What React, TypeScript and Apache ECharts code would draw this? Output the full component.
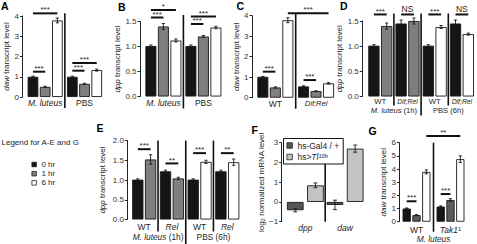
import React, { useEffect, useRef } from "react";
import * as echarts from "echarts";

const FONT = '"Liberation Sans", Arial, Helvetica, sans-serif';
const TEXT = "#1e1e1e";
const AXIS = "#222222";
const C_BLACK = "#151515";
const C_GRAY = "#7f7f7f";
const C_WHITE = "#ffffff";
const C_GRAY_G = "#5c5c5c";
const C_F_DARK = "#555555";
const C_F_LIGHT = "#c3c3c3";

// ---------- Panel A (daw, M. luteus vs PBS) ----------
const aCategories = ["M. luteus", "PBS"];
const a0hr = [1.0, 1.0];
const a0hrErr = [0.03, 0.03];
const a1hr = [0.5, 0.65];
const a1hrErr = [0.03, 0.03];
const a6hr = [3.78, 1.33];
const a6hrErr = [0.12, 0.05];
// [catFrom, slotFrom, catTo, slotTo, yValue, label]
const aSig: [number, number, number, number, number, string][] = [
  [0, 0, 0, 1, 1.25, "***"],
  [0, 0, 0, 2, 4.13, "***"],
  [1, 0, 1, 1, 1.3, "***"],
  [1, 0, 1, 2, 1.68, "***"],
];

// ---------- Panel B (dpp, M. luteus vs PBS) ----------
const bCategories = ["M. luteus", "PBS"];
const b0hr = [1.01, 1.01];
const b0hrErr = [0.02, 0.02];
const b1hr = [1.4, 1.2];
const b1hrErr = [0.06, 0.02];
const b6hr = [1.12, 1.38];
const b6hrErr = [0.03, 0.025];
const bSig: [number, number, number, number, number, string][] = [
  [0, 0, 0, 1, 1.58, "***"],
  [0, 0, 0, 2, 1.73, "*"],
  [1, 0, 1, 1, 1.45, "***"],
  [1, 0, 1, 2, 1.6, "***"],
];

// ---------- Panel C (daw, WT vs Dif;Rel) ----------
const cCategories = ["WT", "Dif;Rel"];
const c0hr = [1.02, 0.55];
const c0hrErr = [0.02, 0.03];
const c1hr = [0.5, 0.32];
const c1hrErr = [0.03, 0.02];
const c6hr = [3.78, 0.7];
const c6hrErr = [0.12, 0.03];
const cSig: [number, number, number, number, number, string][] = [
  [0, 0, 0, 1, 1.27, "***"],
  [1, 0, 1, 1, 0.86, "***"],
  [0, 2, 1, 2, 4.12, "***"],
];

// ---------- Panel D (dpp) ----------
const dCategories = ["WT", "Dif;Rel", "WT", "Dif;Rel"];
const dGroups = ["M. luteus (1h)", "PBS (6h)"];
const d0hr = [1.01, 1.45, 1.01, 1.45];
const d0hrErr = [0.02, 0.07, 0.02, 0.07];
const dTreated = [1.4, 1.5, 1.38, 1.24];
const dTreatedErr = [0.06, 0.06, 0.03, 0.02];
const dSig: [number, number, number, number, number, string][] = [
  [0, 0, 0, 1, 1.63, "***"],
  [1, 0, 1, 1, 1.63, "NS"],
  [2, 0, 2, 1, 1.63, "***"],
  [3, 0, 3, 1, 1.63, "NS"],
];

// ---------- Panel E (dpp) ----------
const eCategories = ["WT", "Rel", "WT", "Rel"];
const eGroups = ["M. luteus (1h)", "PBS (6h)"];
const e0hr = [1.01, 1.22, 1.01, 1.22];
const e0hrErr = [0.02, 0.03, 0.02, 0.03];
const eTreated = [1.52, 1.04, 1.46, 1.45];
const eTreatedErr = [0.12, 0.03, 0.04, 0.08];
const eSig: [number, number, number, number, number, string][] = [
  [0, 0, 0, 1, 1.78, "***"],
  [1, 0, 1, 1, 1.42, "**"],
  [2, 0, 2, 1, 1.68, "***"],
  [3, 0, 3, 1, 1.68, "**"],
];

// ---------- Panel F (log2 normalized mRNA) ----------
const fCategories = ["dpp", "daw"];
const fGal4 = [-0.42, -0.15];
const fGal4Err = [0.08, 0.24];
const fTl10b = [0.84, 2.7];
const fTl10bErr = [0.12, 0.18];

// ---------- Panel G (daw, WT vs Tak1) ----------
const gCategories = ["WT", "Tak1"];
const gGroups = ["M. luteus"];
const g0hr = [1.0, 1.15];
const g0hrErr = [0.04, 0.05];
const g1hr = [0.5, 1.65];
const g1hrErr = [0.04, 0.1];
const g6hr = [3.78, 4.75];
const g6hrErr = [0.15, 0.25];
const gSig: [number, number, number, number, number, string][] = [
  [0, 0, 0, 1, 1.55, "***"],
  [1, 0, 1, 1, 2.1, "***"],
  [0, 2, 1, 2, 6.5, "**"],
];

// separators: [afterCategory, topValue, bottomValue, long(1)/short(0)]
const aSeps = [[0, 4.13, 0, 0]];
const bSeps = [[0, 1.63, 0, 0]];
const cSeps = [[0, 4.1, 0, 0]];
const dSeps = [[0, 1.65, 0, 0], [1, 1.65, 0, 1], [2, 1.65, 0, 0]];
const eSeps = [[0, 2.0, 0, 0], [1, 2.0, 0, 1], [2, 2.0, 0, 0]];
const fSeps = [[0, 2.6, -1, 0]];
const gSeps = [[0, 6, 0, 0]];

const legendHours = ["0 hr", "1 hr", "6 hr"];
const legendF = ["hs-Gal4 / +", "hs>Tl10b"];

function rich(size: number) {
  return {
    n: { fontSize: size, fontFamily: FONT, color: TEXT },
    i: { fontSize: size, fontFamily: FONT, color: TEXT, fontStyle: "italic" },
    is: { fontSize: size - 1, fontFamily: FONT, color: TEXT, fontStyle: "italic" },
    sup: { fontSize: size * 0.68, fontFamily: FONT, color: TEXT, verticalAlign: "top", padding: [0, 0, 3, 0] },
    isup: { fontSize: size * 0.68, fontFamily: FONT, color: TEXT, fontStyle: "italic", verticalAlign: "top", padding: [0, 0, 3, 0] },
    sub: { fontSize: size * 0.68, fontFamily: FONT, color: TEXT, verticalAlign: "bottom", padding: [3, 0, 0, 0] },
  };
}

function fmt(s: string): string {
  if (s === "Tak1") return "{i|Tak1}{sup|1}";
  if (s === "Dif;Rel") return "{is|Dif;Rel}";
  if (s === "Rel" || s === "dpp" || s === "daw") return `{i|${s}}`;
  if (s.startsWith("M. luteus")) {
    const rest = s.slice("M. luteus".length);
    return "{i|M. luteus}" + (rest ? `{n|${rest}}` : "");
  }
  return `{n|${s}}`;
}

type Slot = { name: string; values: number[]; errs: number[]; colors: string[] };
type Panel = {
  letter: string; lx: number; ly: number;
  left: number; top: number; width: number; height: number; axisOffset: number;
  yMin: number; yMax: number; yInterval: number; yDecimals: number;
  yName: string; nameGap: number;
  categories: string[]; catMargin: number; catSize: number;
  groups?: string[]; groupMargin?: number; groupSize?: number;
  slots: Slot[]; barWidth: number; barGapPx: number;
  sigs: [number, number, number, number, number, string][];
  seps: number[][]; sepShort: number; sepLong: number;
};

const rep = (c: string, n: number) => Array.from({ length: n }, () => c);

const panels: Panel[] = [
  {
    letter: "A", lx: 1, ly: 0.5, left: 25.5, top: 16, width: 78.7, height: 81, axisOffset: 3,
    yMin: 0, yMax: 4, yInterval: 1, yDecimals: 0, yName: "{i|daw}{n| transcript level}", nameGap: 10,
    categories: aCategories, catMargin: 1.5, catSize: 8.5,
    slots: [
      { name: "0 hr", values: a0hr, errs: a0hrErr, colors: rep(C_BLACK, 2) },
      { name: "1 hr", values: a1hr, errs: a1hrErr, colors: rep(C_GRAY, 2) },
      { name: "6 hr", values: a6hr, errs: a6hrErr, colors: rep(C_WHITE, 2) },
    ],
    barWidth: 10.7, barGapPx: 1.5, sigs: aSig, seps: aSeps, sepShort: 11, sepLong: 11,
  },
  {
    letter: "B", lx: 118, ly: 1.3, left: 143.4, top: 21.5, width: 80, height: 75, axisOffset: 3.4,
    yMin: 0, yMax: 1.5, yInterval: 0.5, yDecimals: 1, yName: "{i|dpp}{n| transcript level}", nameGap: 12,
    categories: bCategories, catMargin: 1.5, catSize: 8.5,
    slots: [
      { name: "B 0 hr", values: b0hr, errs: b0hrErr, colors: rep(C_BLACK, 2) },
      { name: "B 1 hr", values: b1hr, errs: b1hrErr, colors: rep(C_GRAY, 2) },
      { name: "B 6 hr", values: b6hr, errs: b6hrErr, colors: rep(C_WHITE, 2) },
    ],
    barWidth: 11, barGapPx: 1.5, sigs: bSig, seps: bSeps, sepShort: 12, sepLong: 12,
  },
  {
    letter: "C", lx: 236.5, ly: 0.5, left: 255, top: 15.7, width: 81.4, height: 82, axisOffset: 3,
    yMin: 0, yMax: 4, yInterval: 1, yDecimals: 0, yName: "{i|daw}{n| transcript level}", nameGap: 7,
    categories: cCategories, catMargin: 1.5, catSize: 8.5,
    slots: [
      { name: "C 0 hr", values: c0hr, errs: c0hrErr, colors: rep(C_BLACK, 2) },
      { name: "C 1 hr", values: c1hr, errs: c1hrErr, colors: rep(C_GRAY, 2) },
      { name: "C 6 hr", values: c6hr, errs: c6hrErr, colors: rep(C_WHITE, 2) },
    ],
    barWidth: 11, barGapPx: 1.5, sigs: cSig, seps: cSeps, sepShort: 11, sepLong: 11,
  },
  {
    letter: "D", lx: 340, ly: 0.5, left: 366.7, top: 21, width: 108.8, height: 75.5, axisOffset: 4.4,
    yMin: 0, yMax: 1.5, yInterval: 0.5, yDecimals: 1, yName: "{i|dpp}{n| transcript level}", nameGap: 11,
    categories: dCategories, catMargin: 1, catSize: 7.8, groups: dGroups, groupMargin: 10.2, groupSize: 7.6,
    slots: [
      { name: "D 0 hr", values: d0hr, errs: d0hrErr, colors: rep(C_BLACK, 4) },
      { name: "D treated", values: dTreated, errs: dTreatedErr, colors: [C_GRAY, C_GRAY, C_WHITE, C_WHITE] },
    ],
    barWidth: 11.3, barGapPx: 1.5, sigs: dSig, seps: dSeps, sepShort: 9, sepLong: 19,
  },
  {
    letter: "E", lx: 96.5, ly: 122, left: 130.35, top: 140.5, width: 110.8, height: 79, axisOffset: 3,
    yMin: 0, yMax: 2, yInterval: 0.5, yDecimals: 1, yName: "{i|dpp}{n| transcript level}", nameGap: 21,
    categories: eCategories, catMargin: 3.3, catSize: 8.5, groups: eGroups, groupMargin: 13.3, groupSize: 8.3,
    slots: [
      { name: "E 0 hr", values: e0hr, errs: e0hrErr, colors: rep(C_BLACK, 4) },
      { name: "E treated", values: eTreated, errs: eTreatedErr, colors: [C_GRAY, C_GRAY, C_WHITE, C_WHITE] },
    ],
    barWidth: 11.3, barGapPx: 1.5, sigs: eSig, seps: eSeps, sepShort: 12, sepLong: 25,
  },
  {
    letter: "F", lx: 251.5, ly: 124.7, left: 285.5, top: 142.7, width: 79.4, height: 79, axisOffset: 3.8,
    yMin: -1, yMax: 3, yInterval: 1, yDecimals: 0, yName: "{n|log}{sub|2}{n| normalized mRNA level}", nameGap: 14,
    categories: fCategories, catMargin: 1.5, catSize: 8.5,
    slots: [
      { name: legendF[0], values: fGal4, errs: fGal4Err, colors: rep(C_F_DARK, 2) },
      { name: legendF[1], values: fTl10b, errs: fTl10bErr, colors: rep(C_F_LIGHT, 2) },
    ],
    barWidth: 16.7, barGapPx: 3.5, sigs: [], seps: fSeps, sepShort: 0, sepLong: 0,
  },
  {
    letter: "G", lx: 368.5, ly: 125.7, left: 399.5, top: 142.7, width: 68, height: 79, axisOffset: 0,
    yMin: 0, yMax: 6, yInterval: 1, yDecimals: 0, yName: "{i|daw}{n| transcript level}", nameGap: 10,
    categories: gCategories, catMargin: 3.8, catSize: 8.5, groups: gGroups, groupMargin: 13, groupSize: 8.3,
    slots: [
      { name: "G 0 hr", values: g0hr, errs: g0hrErr, colors: rep(C_BLACK, 2) },
      { name: "G 1 hr", values: g1hr, errs: g1hrErr, colors: rep(C_GRAY_G, 2) },
      { name: "G 6 hr", values: g6hr, errs: g6hrErr, colors: rep(C_WHITE, 2) },
    ],
    barWidth: 8.3, barGapPx: 1.5, sigs: gSig, seps: gSeps, sepShort: 10, sepLong: 10,
  },
];

function buildOption() {
  const grid: any[] = [];
  const xAxis: any[] = [];
  const yAxis: any[] = [];
  const series: any[] = [];
  const graphic: any[] = [];

  panels.forEach((p, gi) => {
    grid.push({ left: p.left, top: p.top, width: p.width, height: p.height });
    const xi = xAxis.length;
    const hidden = { axisLine: { show: false, onZero: false }, axisTick: { show: false }, splitLine: { show: false } };
    xAxis.push({
      type: "category", gridIndex: gi, position: "bottom", data: p.categories, ...hidden,
      axisLabel: { interval: 0, margin: p.catMargin, formatter: fmt, rich: rich(p.catSize), fontSize: p.catSize, fontFamily: FONT, color: TEXT },
    });
    if (p.groups) {
      const gs = p.groupSize || 8.3;
      xAxis.push({
        type: "category", gridIndex: gi, position: "bottom", offset: 0, data: p.groups, ...hidden,
        axisLabel: { interval: 0, margin: p.groupMargin, formatter: fmt, rich: rich(gs), fontSize: gs, fontFamily: FONT, color: TEXT },
      });
    }
    yAxis.push({
      type: "value", gridIndex: gi, min: p.yMin, max: p.yMax, interval: p.yInterval, offset: p.axisOffset,
      axisLine: { show: true, lineStyle: { color: AXIS, width: 1 } },
      axisTick: { show: true, length: 2.5, lineStyle: { color: AXIS, width: 1 } },
      splitLine: { show: false },
      axisLabel: {
        margin: 3.5, fontSize: 8, fontFamily: FONT, color: "#333",
        formatter: (v: number) => (v < 0 ? "\u2212" : "") + Math.abs(v).toFixed(p.yDecimals),
      },
      name: p.yName, nameLocation: "middle", nameGap: p.nameGap,
      nameTextStyle: { fontSize: 8, fontFamily: FONT, color: TEXT, rich: rich(8) },
    });

    const n = p.slots.length;
    const step = p.barWidth + p.barGapPx;
    const off = (s: number) => (s - (n - 1) / 2) * step;

    p.slots.forEach((s) => {
      series.push({
        type: "bar", name: s.name, xAxisIndex: xi, yAxisIndex: gi, silent: true,
        barWidth: p.barWidth, barGap: (p.barGapPx / p.barWidth) * 100 + "%",
        itemStyle: { color: s.colors[0], borderColor: "#1a1a1a", borderWidth: 0.9 },
        data: s.values.map((v, i) => ({ value: v, itemStyle: { color: s.colors[i] } })),
      });
    });

    const errData: number[][] = [];
    p.slots.forEach((s, k) => s.values.forEach((v, i) => errData.push([i, v, s.errs[i], k])));
    series.push({
      type: "custom", name: p.letter + " errors", xAxisIndex: xi, yAxisIndex: gi, silent: true, clip: false,
      encode: { x: 0, y: 1 }, data: errData, z: 3,
      renderItem: (_params: any, api: any) => {
        const c = api.value(0), v = api.value(1), e = api.value(2), k = api.value(3);
        const t = api.coord([c, v + e]);
        const b = api.coord([c, v - e]);
        const x = t[0] + off(k);
        const cap = p.barWidth > 12 ? 2 : 1.6;
        const st = { stroke: "#1a1a1a", lineWidth: 0.9 };
        return {
          type: "group",
          children: [
            { type: "line", shape: { x1: x, y1: t[1], x2: x, y2: b[1] }, style: st },
            { type: "line", shape: { x1: x - cap, y1: t[1], x2: x + cap, y2: t[1] }, style: st },
            { type: "line", shape: { x1: x - cap, y1: b[1], x2: x + cap, y2: b[1] }, style: st },
          ],
        };
      },
    });

    if (p.sigs.length) {
      const sigs = p.sigs;
      series.push({
        type: "custom", name: p.letter + " significance", xAxisIndex: xi, yAxisIndex: gi, silent: true, clip: false,
        encode: { x: 0, y: 1 }, data: sigs.map((s) => [s[0], s[4], s[2], s[1], s[3]]), z: 4,
        renderItem: (params: any, api: any) => {
          const s = sigs[params.dataIndex];
          const a = api.coord([s[0], s[4]]);
          const b = api.coord([s[2], s[4]]);
          const x1 = a[0] + off(s[1]);
          const x2 = b[0] + off(s[3]);
          const y = a[1];
          const isNS = s[5] === "NS";
          return {
            type: "group",
            children: [
              { type: "line", shape: { x1, y1: y, x2, y2: y }, style: { stroke: "#111", lineWidth: 2 } },
              {
                type: "text",
                style: {
                  text: s[5], x: (x1 + x2) / 2, y: isNS ? y - 0.6 : y + 0.6, align: "center", verticalAlign: "bottom",
                  fontSize: isNS ? 8.5 : 8, fontFamily: FONT, fill: TEXT,
                },
              },
            ],
          };
        },
      });
    }

    if (p.seps.length) {
      const seps = p.seps;
      series.push({
        type: "custom", name: p.letter + " separators", xAxisIndex: xi, yAxisIndex: gi, silent: true, clip: false,
        encode: { x: 0, y: 1 }, data: seps.map((s) => [s[0], s[1]]), z: 3,
        renderItem: (params: any, api: any) => {
          const s = seps[params.dataIndex];
          const t1 = api.coord([s[0], s[1]]);
          const t2 = api.coord([s[0] + 1, s[1]]);
          const bt = api.coord([s[0], s[2]]);
          const x = (t1[0] + t2[0]) / 2;
          const below = s[3] ? p.sepLong : p.sepShort;
          return { type: "line", shape: { x1: x, y1: t1[1], x2: x, y2: bt[1] + below }, style: { stroke: "#111", lineWidth: 1.6 } };
        },
      });
    }

    graphic.push({
      type: "text", x: p.lx, y: p.ly,
      style: { text: p.letter, fontSize: 10.5, fontWeight: "bold", fontFamily: FONT, fill: "#000", verticalAlign: "top" },
    });
  });

  graphic.push({
    type: "text", x: 1.5, y: 142,
    style: { text: "Legend for A-E and G", fontSize: 8, fontFamily: FONT, fill: TEXT, verticalAlign: "middle" },
  });

  const legend = [
    {
      data: legendHours, orient: "vertical", left: 31.5, top: 160.5, padding: 0, itemGap: 1.2,
      itemWidth: 4.5, itemHeight: 4.5, icon: "rect", selectedMode: false,
      itemStyle: { borderColor: "#222", borderWidth: 0.8 },
      textStyle: { fontSize: 8, fontFamily: FONT, color: "#1e1e1e" },
    },
    {
      data: legendF, orient: "vertical", left: 283.5, top: 138.5, padding: [2.5, 4, 2.5, 3], itemGap: 2.5,
      itemWidth: 5.5, itemHeight: 5.5, icon: "rect", selectedMode: false,
      borderColor: "#111", borderWidth: 1, backgroundColor: "#fff",
      itemStyle: { borderColor: "#222", borderWidth: 0.8 },
      formatter: (name: string) => (name === "hs>Tl10b" ? "{n|hs>}{i|Tl}{isup|10b}" : `{n|${name}}`),
      textStyle: { fontSize: 8.5, fontFamily: FONT, color: TEXT, rich: rich(8.5) },
    },
  ];

  return {
    animation: false,
    backgroundColor: "#ffffff",
    textStyle: { fontFamily: FONT },
    grid, xAxis, yAxis, series, graphic, legend,
  };
}

export default function App() {
  const ref = useRef<HTMLDivElement>(null);
  useEffect(() => {
    document.body.style.margin = "0";
    if (!ref.current) return;
    const chart = echarts.init(ref.current, undefined, { renderer: "svg" });
    chart.setOption(buildOption() as any);
    return () => chart.dispose();
  }, []);
  return <div ref={ref} style={{ position: "absolute", left: 0, top: 0, width: 477, height: 244 }} />;
}
